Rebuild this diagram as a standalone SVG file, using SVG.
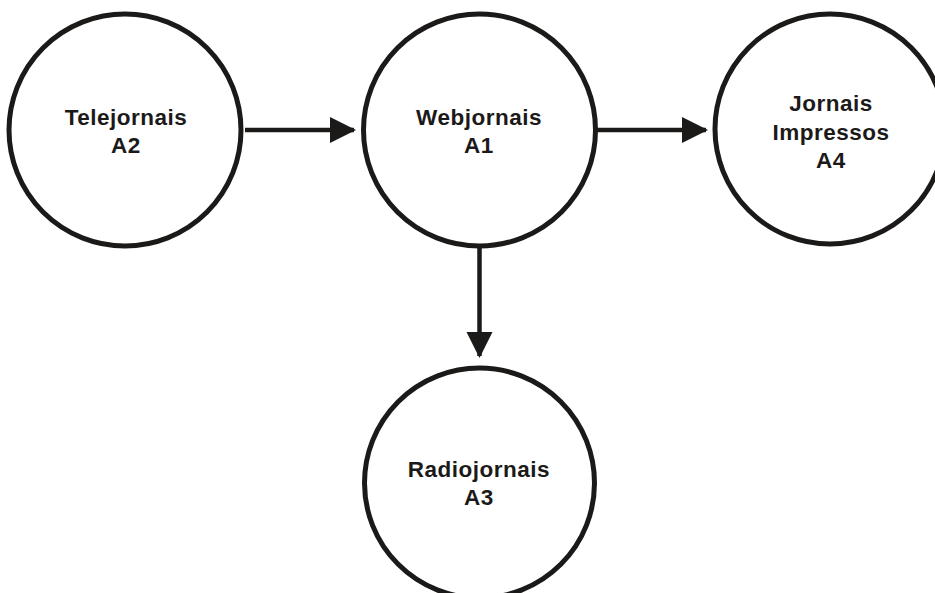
<svg xmlns="http://www.w3.org/2000/svg" width="935" height="593" viewBox="0 0 935 593">
<style>
.node circle{fill:#fff;stroke:#1c1a19;stroke-width:5}
.node text{font-family:"Liberation Sans",Arial,sans-serif;font-weight:bold;font-size:22.5px;letter-spacing:0.5px;fill:#1c1a19;text-anchor:middle}
.edge{stroke:#1c1a19;stroke-width:4.5;fill:none}
</style>
<defs>
<marker id="ah" markerUnits="userSpaceOnUse" markerWidth="28" markerHeight="28" refX="24" refY="13" orient="auto">
<path d="M0,0 L26,13 L0,26 Z" fill="#1c1a19"/>
</marker>
</defs>
<rect width="935" height="593" fill="#fff"/>
<g id="edges">
<line class="edge" x1="245" y1="130" x2="354" y2="130" marker-end="url(#ah)"/>
<line class="edge" x1="597" y1="130" x2="706" y2="130" marker-end="url(#ah)"/>
<line class="edge" x1="479.5" y1="247" x2="479.5" y2="356" marker-end="url(#ah)"/>
</g>
<g id="telejornais" class="node">
<circle cx="125" cy="130" r="116"/>
<text x="126" y="125">Telejornais</text>
<text x="126" y="153">A2</text>
</g>
<g id="webjornais" class="node">
<circle cx="479.5" cy="130" r="116"/>
<text x="479" y="125">Webjornais</text>
<text x="479" y="153">A1</text>
</g>
<g id="impressos" class="node">
<circle cx="830" cy="129" r="115"/>
<text x="831" y="111">Jornais</text>
<text x="831" y="140">Impressos</text>
<text x="831" y="168">A4</text>
</g>
<g id="radiojornais" class="node">
<circle cx="479.5" cy="483" r="115"/>
<text x="479" y="477">Radiojornais</text>
<text x="479" y="505">A3</text>
</g>
</svg>
